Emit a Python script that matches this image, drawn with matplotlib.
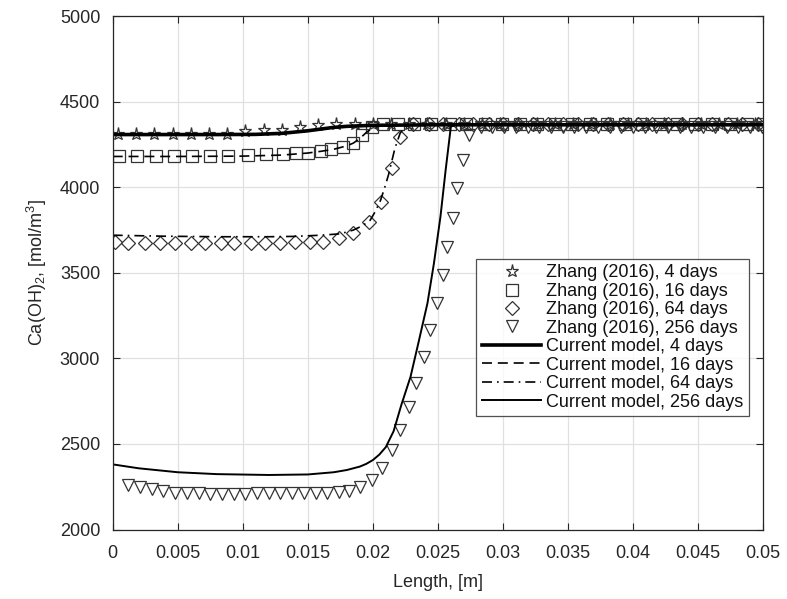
import matplotlib
matplotlib.use("Agg")
import matplotlib.pyplot as plt

plt.rcParams['font.family'] = ['Liberation Sans', 'DejaVu Sans']
plt.rcParams['mathtext.fontset'] = 'custom'
plt.rcParams['mathtext.rm'] = 'Liberation Sans'
plt.rcParams['mathtext.default'] = 'regular'

star_x = [0.0004, 0.0018, 0.0032, 0.0046, 0.0060, 0.0074, 0.0088, 0.0102, 0.0116, 0.0130,
          0.0144, 0.0158, 0.0172, 0.0186, 0.0200, 0.0214, 0.0228, 0.0242, 0.0256, 0.0270,
          0.0284, 0.0298, 0.0312, 0.0326, 0.0340, 0.0354, 0.0368, 0.0382, 0.0396, 0.0410,
          0.0424, 0.0438, 0.0452, 0.0466, 0.0480, 0.0494]
star_v = [4312, 4312, 4312, 4312, 4312, 4312, 4314, 4330, 4332, 4335,
          4350, 4362, 4367, 4368, 4368, 4368, 4368, 4368, 4368, 4368,
          4368, 4368, 4368, 4368, 4368, 4368, 4368, 4368, 4368, 4368,
          4368, 4368, 4368, 4368, 4368, 4368]

sq_x = [0.0005, 0.0019, 0.0033, 0.0047, 0.0061, 0.0075, 0.0089, 0.0104, 0.0118, 0.0131,
        0.0141, 0.0150, 0.0160, 0.0168, 0.0177, 0.0185, 0.0192, 0.0199, 0.0208, 0.0219,
        0.0232, 0.0245, 0.0259, 0.0272, 0.0286, 0.0299, 0.0313, 0.0326, 0.0340, 0.0353,
        0.0367, 0.0380, 0.0394, 0.0407, 0.0421, 0.0434, 0.0448, 0.0461, 0.0475, 0.0488,
        0.0500]
sq_v = [4180, 4180, 4180, 4180, 4180, 4180, 4180, 4190, 4192, 4195,
        4203, 4203, 4214, 4222, 4233, 4257, 4306, 4352, 4370, 4370,
        4370, 4370, 4370, 4370, 4370, 4370, 4370, 4370, 4370, 4370,
        4370, 4370, 4370, 4370, 4370, 4370, 4370, 4370, 4370, 4370,
        4370]

dia_x = [0.0002, 0.0012, 0.0025, 0.0036, 0.0048, 0.0060, 0.0071, 0.0083, 0.0093, 0.0106,
         0.0117, 0.0129, 0.0140, 0.0152, 0.0162, 0.0174, 0.0185, 0.0197, 0.0206, 0.0215,
         0.0221, 0.0231, 0.0243, 0.0254, 0.0266, 0.0277, 0.0289, 0.0300, 0.0312, 0.0323,
         0.0335, 0.0346, 0.0358, 0.0369, 0.0381, 0.0392, 0.0404, 0.0415, 0.0427, 0.0438,
         0.0450, 0.0461, 0.0473, 0.0484, 0.0496]
dia_v = [3682, 3675, 3675, 3675, 3675, 3677, 3677, 3677, 3677, 3677,
         3677, 3677, 3682, 3682, 3682, 3702, 3731, 3799, 3916, 4111,
         4296, 4368, 4368, 4368, 4368, 4368, 4368, 4368, 4368, 4368,
         4368, 4368, 4368, 4368, 4368, 4368, 4368, 4368, 4368, 4368,
         4368, 4368, 4368, 4368, 4368]

tri_x = [0.0012, 0.0021, 0.0030, 0.0039, 0.0048, 0.0057, 0.0066, 0.0075, 0.0084, 0.0093,
         0.0102, 0.0111, 0.0120, 0.0129, 0.0138, 0.0147, 0.0156, 0.0165, 0.0174, 0.0182,
         0.0190, 0.0199, 0.0207, 0.0215, 0.0221, 0.0228, 0.0233, 0.0239, 0.0244, 0.0249,
         0.0254, 0.0257, 0.0262, 0.0265, 0.0269, 0.0274, 0.0283, 0.0292, 0.0301, 0.0310,
         0.0319, 0.0328, 0.0337, 0.0346, 0.0355, 0.0364, 0.0373, 0.0382, 0.0391, 0.0400,
         0.0409, 0.0418, 0.0427, 0.0436, 0.0445, 0.0454, 0.0463, 0.0472, 0.0481, 0.0490,
         0.0499]
tri_v = [2262, 2250, 2238, 2225, 2215, 2215, 2212, 2210, 2210, 2210,
         2210, 2212, 2213, 2213, 2213, 2213, 2213, 2213, 2218, 2228,
         2251, 2290, 2358, 2465, 2582, 2718, 2855, 3010, 3166, 3322,
         3488, 3653, 3819, 3994, 4160, 4306, 4355, 4355, 4355, 4355,
         4355, 4355, 4355, 4355, 4355, 4355, 4355, 4355, 4355, 4355,
         4355, 4355, 4355, 4355, 4355, 4355, 4355, 4355, 4355, 4355,
         4355]

# current model
m4_x = [0, 0.004, 0.008, 0.011, 0.013, 0.015, 0.016, 0.017, 0.018, 0.020, 0.025, 0.03, 0.05]
m4_v = [4308, 4308, 4308, 4309, 4315, 4330, 4340, 4350, 4356, 4362, 4365, 4365, 4365]

m16_x = [0, 0.005, 0.010, 0.013, 0.015, 0.016, 0.017, 0.018, 0.0185, 0.019, 0.0195,
         0.020, 0.0205, 0.021, 0.025, 0.05]
m16_v = [4180, 4180, 4182, 4188, 4200, 4210, 4222, 4242, 4258, 4285, 4320,
         4348, 4360, 4364, 4365, 4365]

m64_x = [0, 0.004, 0.008, 0.012, 0.014, 0.016, 0.0175, 0.0185, 0.0192, 0.0198, 0.0202,
         0.0206, 0.0209, 0.0212, 0.0217, 0.0221, 0.0225, 0.023, 0.025, 0.05]
m64_v = [3720, 3714, 3711, 3711, 3713, 3720, 3728, 3750, 3775, 3808, 3860,
         3925, 3995, 4071, 4228, 4316, 4355, 4364, 4365, 4365]

m256_x = [0, 0.002, 0.005, 0.008, 0.012, 0.015, 0.017, 0.018, 0.019, 0.0195, 0.020,
          0.0205, 0.021, 0.0216, 0.0222, 0.0229, 0.0235, 0.0242, 0.0247, 0.0252, 0.0256,
          0.0260, 0.0263, 0.03, 0.05]
m256_v = [2381, 2358, 2335, 2324, 2319, 2322, 2335, 2348, 2368, 2384, 2406,
          2438, 2482, 2575, 2730, 2893, 3089, 3322, 3556, 3828, 4101,
          4354, 4363, 4365, 4365]

fig = plt.figure(figsize=(7.87, 5.99), dpi=100)
ax = fig.add_axes([0.1432, 0.1159, 0.8263, 0.8572])

mk = dict(linestyle='none', markerfacecolor='none', markeredgecolor='#333333',
          markeredgewidth=0.9)
ax.plot(star_x, star_v, marker='*', markersize=9.5, label='Zhang (2016), 4 days', **mk)
ax.plot(sq_x, sq_v, marker='s', markersize=8, label='Zhang (2016), 16 days', **mk)
ax.plot(dia_x, dia_v, marker='D', markersize=7.5, label='Zhang (2016), 64 days', **mk)
ax.plot(tri_x, tri_v, marker='v', markersize=9, label='Zhang (2016), 256 days', **mk)

ax.plot(m4_x, m4_v, color='black', lw=2.6, label='Current model, 4 days')
ax.plot(m16_x, m16_v, color='black', lw=1.2, linestyle=(0, (6, 3.5)),
        label='Current model, 16 days')
ax.plot(m64_x, m64_v, color='black', lw=1.2, linestyle=(0, (6, 3, 1, 3)),
        label='Current model, 64 days')
ax.plot(m256_x, m256_v, color='black', lw=1.4, label='Current model, 256 days')

ax.set_xlim(0, 0.05)
ax.set_ylim(2000, 5000)
ax.set_xticks([0, 0.005, 0.01, 0.015, 0.02, 0.025, 0.03, 0.035, 0.04, 0.045, 0.05])
ax.set_xticklabels(['0', '0.005', '0.01', '0.015', '0.02', '0.025', '0.03', '0.035',
                    '0.04', '0.045', '0.05'])
ax.set_yticks([2000, 2500, 3000, 3500, 4000, 4500, 5000])
ax.grid(True, color='#e0e0e0', linewidth=0.9)
ax.set_axisbelow(True)
ax.tick_params(direction='in', length=5, top=True, right=True, colors='#262626',
               labelsize=13)
ax.tick_params(axis='x', pad=11)
ax.tick_params(axis='y', pad=9)
for s in ax.spines.values():
    s.set_color('#262626')
    s.set_linewidth(0.9)

ax.set_xlabel('Length, [m]', fontsize=13, color='#262626', labelpad=9)
ax.set_ylabel('Ca(OH)$_{2}$, [mol/m$^{3}$]', fontsize=13, color='#262626', labelpad=8)

leg = ax.legend(loc='upper right', bbox_to_anchor=(0.9785, 0.527), borderaxespad=0,
                fontsize=13, frameon=True, fancybox=False, handlelength=3.3,
                handletextpad=0.28, labelspacing=0.08, borderpad=0.3)
leg.get_frame().set_edgecolor('#262626')
leg.get_frame().set_linewidth(0.9)
for t in leg.get_texts():
    t.set_color('#111111')

fig.savefig('out.png', dpi=100)
